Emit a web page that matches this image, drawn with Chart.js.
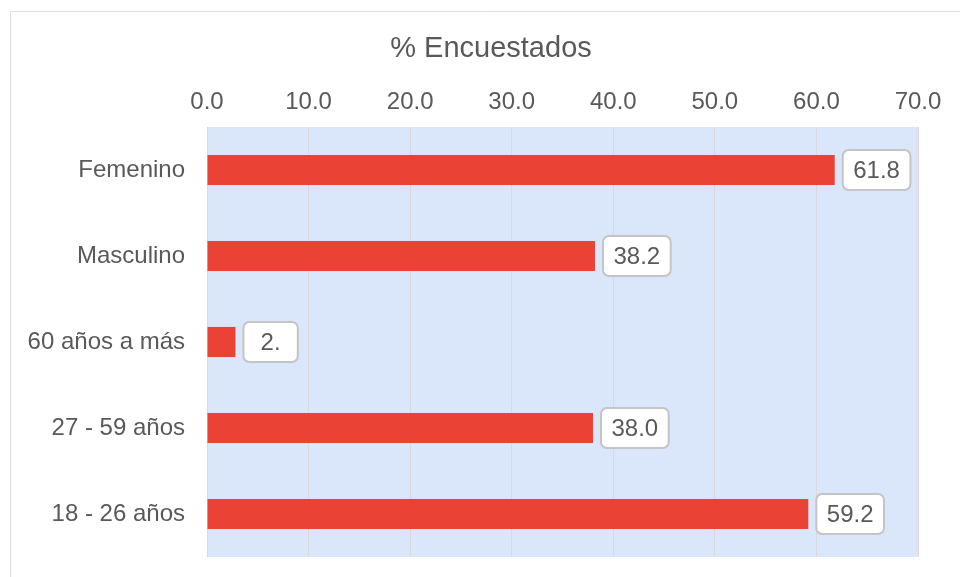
<!DOCTYPE html>
<html>
<head>
<meta charset="utf-8">
<script src="https://cdn.jsdelivr.net/npm/chart.js@4/dist/chart.umd.min.js"></script>
<style>
  html, body { margin: 0; padding: 0; background: #fff; }
  #wrap { width: 960px; height: 577px; position: relative; }
</style>
</head>
<body>
<div id="wrap"><canvas id="chart" width="960" height="577"></canvas></div>
<script>
const categories = ['Femenino', 'Masculino', '60 años a más', '27 - 59 años', '18 - 26 años'];
const percentages = [61.8, 38.2, 2.8, 38.0, 59.2];
// text shown in each value box (the small bar's box wraps after the point)
const valueText = ['61.8', '38.2', '2.', '38.0', '59.2'];
const axisTitle = '% Encuestados';

const FONT = "'Liberation Sans', Arial, sans-serif";
const TEXT = '#595959';
const GRID = '#d9d9d9';

const decorations = {
  id: 'decorations',
  beforeDraw(chart) {
    const { ctx, chartArea: a } = chart;
    ctx.save();
    // outer frame
    ctx.strokeStyle = '#dcdcdc';
    ctx.lineWidth = 1;
    ctx.beginPath();
    ctx.moveTo(10.5, 577);
    ctx.lineTo(10.5, 11.5);
    ctx.lineTo(960, 11.5);
    ctx.stroke();
    // plot background
    ctx.fillStyle = '#dae6fa';
    ctx.fillRect(a.left, a.top, a.right - a.left, a.bottom - a.top);
    ctx.restore();
  },
  afterDatasetsDraw(chart) {
    const { ctx } = chart;
    const meta = chart.getDatasetMeta(0);
    ctx.save();
    ctx.font = '24px ' + FONT;
    ctx.textBaseline = 'middle';
    ctx.textAlign = 'center';
    meta.data.forEach((bar, i) => {
      const full = percentages[i].toFixed(1);
      const w = ctx.measureText(full).width + 21;
      const h = 40;
      const x = bar.x + 8;
      const y = bar.y - h / 2;
      ctx.beginPath();
      ctx.roundRect(x, y, w, h, 6);
      ctx.fillStyle = '#fff';
      ctx.fill();
      ctx.strokeStyle = '#c4c4c4';
      ctx.lineWidth = 2;
      ctx.stroke();
      ctx.fillStyle = TEXT;
      ctx.fillText(valueText[i], x + w / 2, bar.y + 1);
    });
    // axis title
    ctx.font = '29px ' + FONT;
    ctx.fillText(axisTitle, 491, 49);
    ctx.restore();
  }
};

new Chart(document.getElementById('chart'), {
  type: 'bar',
  data: {
    labels: categories,
    datasets: [{
      data: percentages,
      backgroundColor: '#ea4335',
      borderWidth: 0,
      categoryPercentage: 0.7,
      barPercentage: 0.5,
    }]
  },
  options: {
    indexAxis: 'y',
    responsive: false,
    animation: false,
    layout: { padding: { left: 0, top: 0, right: 42, bottom: 20 } },
    plugins: {
      legend: { display: false },
      tooltip: { enabled: false },
      title: { display: false }
    },
    scales: {
      x: {
        position: 'top',
        min: 0,
        max: 70,
        afterFit: s => { s.height = 127; s.paddingLeft = 0; s.paddingRight = 0; },
        grid: { color: GRID, lineWidth: 1, drawTicks: false },
        border: { display: false },
        ticks: {
          stepSize: 10,
          padding: 10,
          color: TEXT,
          font: { family: FONT, size: 24 },
          callback: v => Number(v).toFixed(1)
        }
      },
      y: {
        afterFit: s => { s.width = 207; s.paddingTop = 0; s.paddingBottom = 0; },
        grid: { display: false, drawTicks: false },
        border: { display: false },
        ticks: {
          padding: 22,
          color: TEXT,
          font: { family: FONT, size: 24 }
        }
      }
    }
  },
  plugins: [decorations]
});
</script>
</body>
</html>
